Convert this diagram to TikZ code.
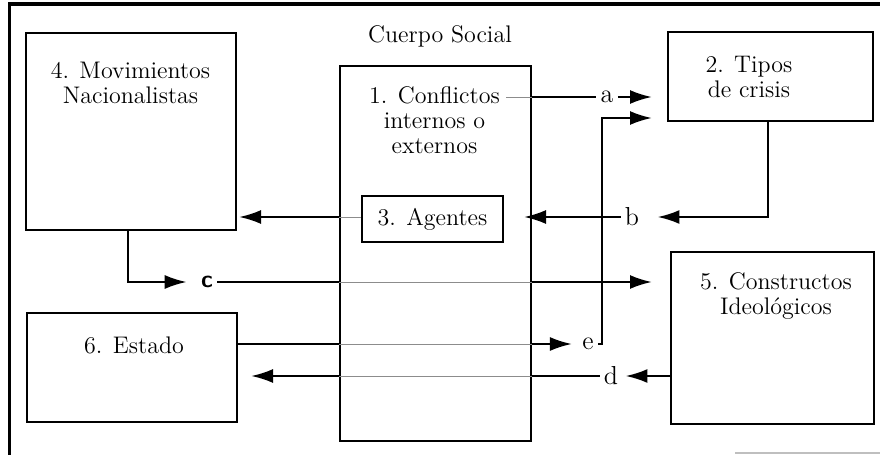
\documentclass[tikz,border=0pt]{standalone}
\usetikzlibrary{arrows.meta}

\tikzset{
  box/.style={rectangle,draw,line width=1pt,inner sep=0pt},
  txt/.style={inner sep=0pt,align=center,font=\fontsize{12}{12.5}\selectfont},
  lbl/.style={inner sep=2pt,font=\fontsize{13}{13}\selectfont},
  link/.style={line width=1.2pt},
  faint/.style={line width=0.4pt,black!45},
  tip/.style={-{Latex[length=11pt,width=7pt]}}
}

\begin{document}
\begin{tikzpicture}[x=0.5pt,y=-0.5pt]
            \useasboundingbox (0,0) rectangle (880,455);
            % marco exterior
            \draw[line width=1.5pt] (9,455) -- (9,4) -- (880,4);
            \draw[black!25,line width=0.8pt] (735,453) -- (880,453);

            \node[txt,anchor=base] (cuerpo) at (440,42) {Cuerpo Social};

            % cajas
            \node[box,minimum width=105pt,minimum height=98.5pt] (mov) at (131,131.5) {};
            \node[box,minimum width=95.5pt,minimum height=187.5pt] (conf) at (435.5,253.5) {};
            \node[box,minimum width=70.5pt,minimum height=23pt] (ag) at (432.5,219) {};
            \node[box,minimum width=102.5pt,minimum height=44.5pt] (tipos) at (770.5,76.5) {};
            \node[box,minimum width=101.5pt,minimum height=86pt] (cons) at (772.5,338) {};
            \node[box,minimum width=105pt,minimum height=54.5pt] (est) at (132,367.5) {};

            \node[txt,anchor=north] (movt) at (130.5,62) {4. Movimientos\\Nacionalistas};
            \node[txt,anchor=north] (conft) at (434.5,86) {1. Conflictos\\internos o\\externos};
            \node[txt] (agt) at (432.5,219) {3. Agentes};
            \node[txt,anchor=north] (tipost) at (749,56) {2. Tipos\\de crisis};
            \node[txt,anchor=north] (const) at (776,272) {5. Constructos\\Ideológicos};
            \node[txt,anchor=north] (estt) at (134,336) {6. Estado};

            % etiquetas
            \node[lbl] (a) at (607,97) {a};
            \node[lbl] (b) at (632,217) {b};
            \node[lbl,font=\fontsize{12}{12}\sffamily\bfseries] (c) at (207,282) {c};
            \node[lbl] (d) at (611,376) {d};
            \node[lbl] (e) at (588,344) {e};
            \coordinate (ebend) at (602,118);

            % a
            \draw[faint] ([xshift=3pt]conft.east |- a) -- (conf.east |- a);
            \draw[link] (conf.east |- a) -- (a.west);
            \draw[link,tip,shorten >=7.5pt] (a.east) -- (tipos.west |- a);
            % b
            \draw[link,tip,shorten >=7pt] ([xshift=-1.25pt]tipos.south) |- (b.east);
            \draw[link,tip,shorten >=10pt] (b.west) -- (ag.east |- b);
            \draw[faint] (ag.west |- b) -- (conf.west |- b);
            \draw[link,tip,shorten >=1pt] (conf.west |- b) -- (mov.east |- b);
            % c
            \draw[link,tip,shorten >=5pt] ([xshift=-1.5pt]mov.south) |- (c.west);
            \draw[link] (c.east) -- (conf.west |- c);
            \draw[faint] (conf.west |- c) -- (conf.east |- c);
            \draw[link,tip,shorten >=9pt] (conf.east |- c) -- (cons.west |- c);
            % e
            \draw[link] (est.east |- e) -- (conf.west |- e);
            \draw[faint] (conf.west |- e) -- (conf.east |- e);
            \draw[link,tip,shorten >=3pt] (conf.east |- e) -- (e.west);
            \draw[link,tip,shorten >=7.5pt] (e.east) -| (ebend) -- (tipos.west |- ebend);
            % d
            \draw[link,tip,shorten >=1.5pt] (cons.west |- d) -- (d.east);
            \draw[link] (d.west) -- (conf.east |- d);
            \draw[faint] (conf.east |- d) -- (conf.west |- d);
            \draw[link,tip,shorten >=6.5pt] (conf.west |- d) -- (est.east |- d);
        \end{tikzpicture}
\end{document}
